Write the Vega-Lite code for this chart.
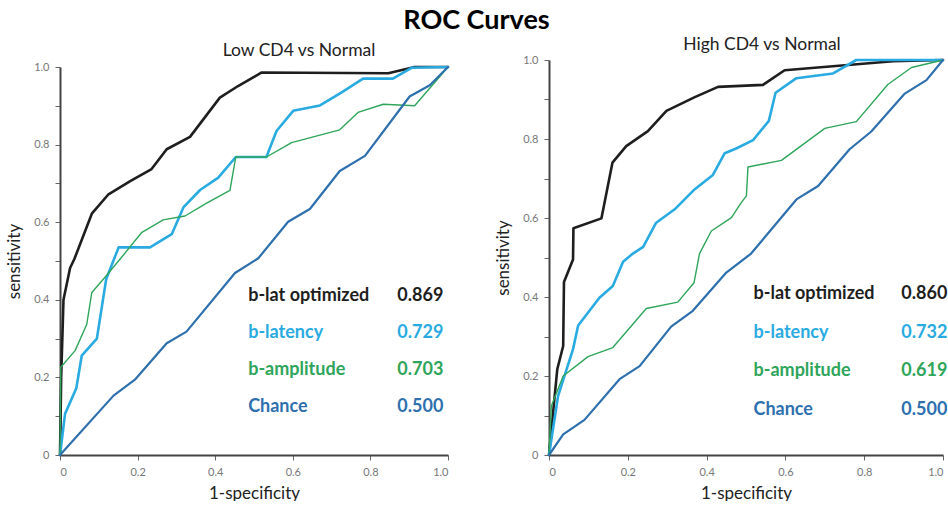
{
  "$schema": "https://vega.github.io/schema/vega-lite/v6.json",
  "background": "white",
  "padding": {"left": 5, "top": 6, "right": 0, "bottom": 0},
  "title": {"text": "ROC Curves", "fontSize": 27, "font": "Lato", "fontWeight": "bold", "anchor": "middle", "color": "#000000", "offset": 1},
  "config": {
    "view": {"stroke": null},
    "font": "Lato",
    "title": {"font": "Lato", "fontSize": 17.5, "fontWeight": "normal", "color": "#222222"},
    "axis": {
      "grid": false,
      "domainColor": "#444444",
      "domainWidth": 2,
      "tickColor": "#666666",
      "tickWidth": 1,
      "tickSize": 5,
      "labelColor": "#777777",
      "labelFont": "Lato",
      "labelFontSize": 11,
      "labelPadding": 6,
      "titleFont": "Lato",
      "titleFontSize": 17,
      "titleFontWeight": "normal",
      "titleColor": "#222222"
    }
  },
  "datasets": {
    "roc": [
      {"panel": "low", "series": "b-lat optimized", "step": 0, "fpr": 0, "tpr": 0},
      {"panel": "low", "series": "b-lat optimized", "step": 1, "fpr": 0.003, "tpr": 0.2},
      {"panel": "low", "series": "b-lat optimized", "step": 2, "fpr": 0.009, "tpr": 0.4},
      {"panel": "low", "series": "b-lat optimized", "step": 3, "fpr": 0.026, "tpr": 0.482},
      {"panel": "low", "series": "b-lat optimized", "step": 4, "fpr": 0.037, "tpr": 0.505},
      {"panel": "low", "series": "b-lat optimized", "step": 5, "fpr": 0.082, "tpr": 0.622},
      {"panel": "low", "series": "b-lat optimized", "step": 6, "fpr": 0.125, "tpr": 0.672},
      {"panel": "low", "series": "b-lat optimized", "step": 7, "fpr": 0.181, "tpr": 0.706},
      {"panel": "low", "series": "b-lat optimized", "step": 8, "fpr": 0.236, "tpr": 0.737},
      {"panel": "low", "series": "b-lat optimized", "step": 9, "fpr": 0.275, "tpr": 0.788},
      {"panel": "low", "series": "b-lat optimized", "step": 10, "fpr": 0.335, "tpr": 0.82},
      {"panel": "low", "series": "b-lat optimized", "step": 11, "fpr": 0.412, "tpr": 0.921},
      {"panel": "low", "series": "b-lat optimized", "step": 12, "fpr": 0.459, "tpr": 0.951},
      {"panel": "low", "series": "b-lat optimized", "step": 13, "fpr": 0.52, "tpr": 0.986},
      {"panel": "low", "series": "b-lat optimized", "step": 14, "fpr": 0.846, "tpr": 0.984},
      {"panel": "low", "series": "b-lat optimized", "step": 15, "fpr": 0.914, "tpr": 1.0},
      {"panel": "low", "series": "b-lat optimized", "step": 16, "fpr": 1.0, "tpr": 1.0},

      {"panel": "low", "series": "b-latency", "step": 0, "fpr": 0, "tpr": 0},
      {"panel": "low", "series": "b-latency", "step": 1, "fpr": 0.013, "tpr": 0.106},
      {"panel": "low", "series": "b-latency", "step": 2, "fpr": 0.042, "tpr": 0.172},
      {"panel": "low", "series": "b-latency", "step": 3, "fpr": 0.056, "tpr": 0.256},
      {"panel": "low", "series": "b-latency", "step": 4, "fpr": 0.095, "tpr": 0.3},
      {"panel": "low", "series": "b-latency", "step": 5, "fpr": 0.119, "tpr": 0.453},
      {"panel": "low", "series": "b-latency", "step": 6, "fpr": 0.151, "tpr": 0.535},
      {"panel": "low", "series": "b-latency", "step": 7, "fpr": 0.232, "tpr": 0.535},
      {"panel": "low", "series": "b-latency", "step": 8, "fpr": 0.288, "tpr": 0.569},
      {"panel": "low", "series": "b-latency", "step": 9, "fpr": 0.318, "tpr": 0.638},
      {"panel": "low", "series": "b-latency", "step": 10, "fpr": 0.361, "tpr": 0.683},
      {"panel": "low", "series": "b-latency", "step": 11, "fpr": 0.408, "tpr": 0.715},
      {"panel": "low", "series": "b-latency", "step": 12, "fpr": 0.453, "tpr": 0.768},
      {"panel": "low", "series": "b-latency", "step": 13, "fpr": 0.532, "tpr": 0.768},
      {"panel": "low", "series": "b-latency", "step": 14, "fpr": 0.558, "tpr": 0.835},
      {"panel": "low", "series": "b-latency", "step": 15, "fpr": 0.601, "tpr": 0.887},
      {"panel": "low", "series": "b-latency", "step": 16, "fpr": 0.67, "tpr": 0.901},
      {"panel": "low", "series": "b-latency", "step": 17, "fpr": 0.725, "tpr": 0.934},
      {"panel": "low", "series": "b-latency", "step": 18, "fpr": 0.781, "tpr": 0.97},
      {"panel": "low", "series": "b-latency", "step": 19, "fpr": 0.858, "tpr": 0.97},
      {"panel": "low", "series": "b-latency", "step": 20, "fpr": 0.906, "tpr": 0.998},
      {"panel": "low", "series": "b-latency", "step": 21, "fpr": 1.0, "tpr": 1.0},

      {"panel": "low", "series": "b-amplitude", "step": 0, "fpr": 0, "tpr": 0},
      {"panel": "low", "series": "b-amplitude", "step": 1, "fpr": 0.002, "tpr": 0.226},
      {"panel": "low", "series": "b-amplitude", "step": 2, "fpr": 0.039, "tpr": 0.269},
      {"panel": "low", "series": "b-amplitude", "step": 3, "fpr": 0.069, "tpr": 0.337},
      {"panel": "low", "series": "b-amplitude", "step": 4, "fpr": 0.082, "tpr": 0.419},
      {"panel": "low", "series": "b-amplitude", "step": 5, "fpr": 0.116, "tpr": 0.458},
      {"panel": "low", "series": "b-amplitude", "step": 6, "fpr": 0.155, "tpr": 0.505},
      {"panel": "low", "series": "b-amplitude", "step": 7, "fpr": 0.211, "tpr": 0.574},
      {"panel": "low", "series": "b-amplitude", "step": 8, "fpr": 0.266, "tpr": 0.606},
      {"panel": "low", "series": "b-amplitude", "step": 9, "fpr": 0.322, "tpr": 0.616},
      {"panel": "low", "series": "b-amplitude", "step": 10, "fpr": 0.378, "tpr": 0.649},
      {"panel": "low", "series": "b-amplitude", "step": 11, "fpr": 0.438, "tpr": 0.682},
      {"panel": "low", "series": "b-amplitude", "step": 12, "fpr": 0.453, "tpr": 0.768},
      {"panel": "low", "series": "b-amplitude", "step": 13, "fpr": 0.532, "tpr": 0.768},
      {"panel": "low", "series": "b-amplitude", "step": 14, "fpr": 0.597, "tpr": 0.805},
      {"panel": "low", "series": "b-amplitude", "step": 15, "fpr": 0.721, "tpr": 0.838},
      {"panel": "low", "series": "b-amplitude", "step": 16, "fpr": 0.768, "tpr": 0.883},
      {"panel": "low", "series": "b-amplitude", "step": 17, "fpr": 0.833, "tpr": 0.904},
      {"panel": "low", "series": "b-amplitude", "step": 18, "fpr": 0.914, "tpr": 0.9},
      {"panel": "low", "series": "b-amplitude", "step": 19, "fpr": 1.0, "tpr": 1.0},

      {"panel": "low", "series": "Chance", "step": 0, "fpr": 0, "tpr": 0},
      {"panel": "low", "series": "Chance", "step": 1, "fpr": 0.138, "tpr": 0.153},
      {"panel": "low", "series": "Chance", "step": 2, "fpr": 0.193, "tpr": 0.194},
      {"panel": "low", "series": "Chance", "step": 3, "fpr": 0.275, "tpr": 0.288},
      {"panel": "low", "series": "Chance", "step": 4, "fpr": 0.326, "tpr": 0.318},
      {"panel": "low", "series": "Chance", "step": 5, "fpr": 0.451, "tpr": 0.469},
      {"panel": "low", "series": "Chance", "step": 6, "fpr": 0.511, "tpr": 0.507},
      {"panel": "low", "series": "Chance", "step": 7, "fpr": 0.588, "tpr": 0.601},
      {"panel": "low", "series": "Chance", "step": 8, "fpr": 0.644, "tpr": 0.634},
      {"panel": "low", "series": "Chance", "step": 9, "fpr": 0.721, "tpr": 0.732},
      {"panel": "low", "series": "Chance", "step": 10, "fpr": 0.786, "tpr": 0.771},
      {"panel": "low", "series": "Chance", "step": 11, "fpr": 0.901, "tpr": 0.924},
      {"panel": "low", "series": "Chance", "step": 12, "fpr": 0.953, "tpr": 0.953},
      {"panel": "low", "series": "Chance", "step": 13, "fpr": 1.0, "tpr": 1.0},

      {"panel": "high", "series": "b-lat optimized", "step": 0, "fpr": 0, "tpr": 0},
      {"panel": "high", "series": "b-lat optimized", "step": 1, "fpr": 0.021, "tpr": 0.217},
      {"panel": "high", "series": "b-lat optimized", "step": 2, "fpr": 0.036, "tpr": 0.276},
      {"panel": "high", "series": "b-lat optimized", "step": 3, "fpr": 0.038, "tpr": 0.438},
      {"panel": "high", "series": "b-lat optimized", "step": 4, "fpr": 0.061, "tpr": 0.495},
      {"panel": "high", "series": "b-lat optimized", "step": 5, "fpr": 0.062, "tpr": 0.574},
      {"panel": "high", "series": "b-lat optimized", "step": 6, "fpr": 0.133, "tpr": 0.599},
      {"panel": "high", "series": "b-lat optimized", "step": 7, "fpr": 0.161, "tpr": 0.74},
      {"panel": "high", "series": "b-lat optimized", "step": 8, "fpr": 0.196, "tpr": 0.782},
      {"panel": "high", "series": "b-lat optimized", "step": 9, "fpr": 0.251, "tpr": 0.82},
      {"panel": "high", "series": "b-lat optimized", "step": 10, "fpr": 0.298, "tpr": 0.871},
      {"panel": "high", "series": "b-lat optimized", "step": 11, "fpr": 0.37, "tpr": 0.906},
      {"panel": "high", "series": "b-lat optimized", "step": 12, "fpr": 0.429, "tpr": 0.932},
      {"panel": "high", "series": "b-lat optimized", "step": 13, "fpr": 0.543, "tpr": 0.937},
      {"panel": "high", "series": "b-lat optimized", "step": 14, "fpr": 0.598, "tpr": 0.974},
      {"panel": "high", "series": "b-lat optimized", "step": 15, "fpr": 0.873, "tpr": 0.997},
      {"panel": "high", "series": "b-lat optimized", "step": 16, "fpr": 1.0, "tpr": 1.0},

      {"panel": "high", "series": "b-latency", "step": 0, "fpr": 0, "tpr": 0},
      {"panel": "high", "series": "b-latency", "step": 1, "fpr": 0.023, "tpr": 0.149},
      {"panel": "high", "series": "b-latency", "step": 2, "fpr": 0.061, "tpr": 0.268},
      {"panel": "high", "series": "b-latency", "step": 3, "fpr": 0.074, "tpr": 0.328},
      {"panel": "high", "series": "b-latency", "step": 4, "fpr": 0.128, "tpr": 0.398},
      {"panel": "high", "series": "b-latency", "step": 5, "fpr": 0.162, "tpr": 0.428},
      {"panel": "high", "series": "b-latency", "step": 6, "fpr": 0.188, "tpr": 0.489},
      {"panel": "high", "series": "b-latency", "step": 7, "fpr": 0.213, "tpr": 0.51},
      {"panel": "high", "series": "b-latency", "step": 8, "fpr": 0.239, "tpr": 0.527},
      {"panel": "high", "series": "b-latency", "step": 9, "fpr": 0.272, "tpr": 0.588},
      {"panel": "high", "series": "b-latency", "step": 10, "fpr": 0.319, "tpr": 0.622},
      {"panel": "high", "series": "b-latency", "step": 11, "fpr": 0.37, "tpr": 0.673},
      {"panel": "high", "series": "b-latency", "step": 12, "fpr": 0.416, "tpr": 0.709},
      {"panel": "high", "series": "b-latency", "step": 13, "fpr": 0.446, "tpr": 0.764},
      {"panel": "high", "series": "b-latency", "step": 14, "fpr": 0.475, "tpr": 0.776},
      {"panel": "high", "series": "b-latency", "step": 15, "fpr": 0.518, "tpr": 0.797},
      {"panel": "high", "series": "b-latency", "step": 16, "fpr": 0.558, "tpr": 0.846},
      {"panel": "high", "series": "b-latency", "step": 17, "fpr": 0.575, "tpr": 0.917},
      {"panel": "high", "series": "b-latency", "step": 18, "fpr": 0.628, "tpr": 0.954},
      {"panel": "high", "series": "b-latency", "step": 19, "fpr": 0.721, "tpr": 0.966},
      {"panel": "high", "series": "b-latency", "step": 20, "fpr": 0.78, "tpr": 1.0},
      {"panel": "high", "series": "b-latency", "step": 21, "fpr": 1.0, "tpr": 1.0},

      {"panel": "high", "series": "b-amplitude", "step": 0, "fpr": 0, "tpr": 0},
      {"panel": "high", "series": "b-amplitude", "step": 1, "fpr": 0.006, "tpr": 0.124},
      {"panel": "high", "series": "b-amplitude", "step": 2, "fpr": 0.036, "tpr": 0.2},
      {"panel": "high", "series": "b-amplitude", "step": 3, "fpr": 0.099, "tpr": 0.249},
      {"panel": "high", "series": "b-amplitude", "step": 4, "fpr": 0.162, "tpr": 0.272},
      {"panel": "high", "series": "b-amplitude", "step": 5, "fpr": 0.247, "tpr": 0.371},
      {"panel": "high", "series": "b-amplitude", "step": 6, "fpr": 0.327, "tpr": 0.387},
      {"panel": "high", "series": "b-amplitude", "step": 7, "fpr": 0.368, "tpr": 0.436},
      {"panel": "high", "series": "b-amplitude", "step": 8, "fpr": 0.382, "tpr": 0.51},
      {"panel": "high", "series": "b-amplitude", "step": 9, "fpr": 0.412, "tpr": 0.567},
      {"panel": "high", "series": "b-amplitude", "step": 10, "fpr": 0.463, "tpr": 0.601},
      {"panel": "high", "series": "b-amplitude", "step": 11, "fpr": 0.488, "tpr": 0.639},
      {"panel": "high", "series": "b-amplitude", "step": 12, "fpr": 0.501, "tpr": 0.656},
      {"panel": "high", "series": "b-amplitude", "step": 13, "fpr": 0.505, "tpr": 0.729},
      {"panel": "high", "series": "b-amplitude", "step": 14, "fpr": 0.59, "tpr": 0.746},
      {"panel": "high", "series": "b-amplitude", "step": 15, "fpr": 0.7, "tpr": 0.827},
      {"panel": "high", "series": "b-amplitude", "step": 16, "fpr": 0.78, "tpr": 0.844},
      {"panel": "high", "series": "b-amplitude", "step": 17, "fpr": 0.86, "tpr": 0.938},
      {"panel": "high", "series": "b-amplitude", "step": 18, "fpr": 0.92, "tpr": 0.981},
      {"panel": "high", "series": "b-amplitude", "step": 19, "fpr": 1.0, "tpr": 1.0},

      {"panel": "high", "series": "Chance", "step": 0, "fpr": 0, "tpr": 0},
      {"panel": "high", "series": "Chance", "step": 1, "fpr": 0.036, "tpr": 0.052},
      {"panel": "high", "series": "Chance", "step": 2, "fpr": 0.09, "tpr": 0.089},
      {"panel": "high", "series": "Chance", "step": 3, "fpr": 0.179, "tpr": 0.192},
      {"panel": "high", "series": "Chance", "step": 4, "fpr": 0.23, "tpr": 0.225},
      {"panel": "high", "series": "Chance", "step": 5, "fpr": 0.31, "tpr": 0.325},
      {"panel": "high", "series": "Chance", "step": 6, "fpr": 0.365, "tpr": 0.365},
      {"panel": "high", "series": "Chance", "step": 7, "fpr": 0.45, "tpr": 0.462},
      {"panel": "high", "series": "Chance", "step": 8, "fpr": 0.513, "tpr": 0.51},
      {"panel": "high", "series": "Chance", "step": 9, "fpr": 0.628, "tpr": 0.647},
      {"panel": "high", "series": "Chance", "step": 10, "fpr": 0.683, "tpr": 0.681},
      {"panel": "high", "series": "Chance", "step": 11, "fpr": 0.763, "tpr": 0.774},
      {"panel": "high", "series": "Chance", "step": 12, "fpr": 0.818, "tpr": 0.819},
      {"panel": "high", "series": "Chance", "step": 13, "fpr": 0.903, "tpr": 0.915},
      {"panel": "high", "series": "Chance", "step": 14, "fpr": 0.958, "tpr": 0.949},
      {"panel": "high", "series": "Chance", "step": 15, "fpr": 1.0, "tpr": 1.0}
    ],
    "auc": [
      {"panel": "low", "series": "b-lat optimized", "auc": "0.869"},
      {"panel": "low", "series": "b-latency", "auc": "0.729"},
      {"panel": "low", "series": "b-amplitude", "auc": "0.703"},
      {"panel": "low", "series": "Chance", "auc": "0.500"},
      {"panel": "high", "series": "b-lat optimized", "auc": "0.860"},
      {"panel": "high", "series": "b-latency", "auc": "0.732"},
      {"panel": "high", "series": "b-amplitude", "auc": "0.619"},
      {"panel": "high", "series": "Chance", "auc": "0.500"}
    ]
  },
  "spacing": 44,
  "hconcat": [
    {
      "width": 388,
      "height": 395,
      "title": {"text": "Low CD4 vs Normal", "offset": 1, "dx": 45},
      "layer": [
        {
          "data": {"name": "roc"},
          "transform": [{"filter": "datum.panel == 'low'"}],
          "mark": {"type": "line", "strokeJoin": "round", "strokeCap": "round"},
          "encoding": {
            "x": {"field": "fpr", "type": "quantitative", "scale": {"domain": [0, 1], "nice": false},
                  "axis": {"title": "1-specificity", "values": [0, 0.2, 0.4, 0.6, 0.8, 1.0], "labelExpr": "datum.value == 0 ? '0' : format(datum.value, '.1f')", "titlePadding": 8}},
            "y": {"field": "tpr", "type": "quantitative", "scale": {"domain": [0, 1], "nice": false, "range": [395, 7]},
                  "axis": {"title": "sensitivity", "values": [0, 0.1, 0.2, 0.3, 0.4, 0.5, 0.6, 0.7, 0.8, 0.9, 1.0], "labelExpr": "datum.value == 0 ? '0' : (round(datum.value * 10) % 2 == 0 ? format(datum.value, '.1f') : '')", "titlePadding": 10}},
            "color": {"field": "series", "type": "nominal", "legend": null,
                      "scale": {"domain": ["b-lat optimized", "b-latency", "b-amplitude", "Chance"], "range": ["#1e1e1e", "#29abe2", "#2ea55a", "#2e6fae"]}},
            "strokeWidth": {"condition": [{"test": "datum.series == 'b-amplitude'", "value": 1.4}, {"test": "datum.series == 'Chance'", "value": 2.2}], "value": 2.6},
            "order": {"field": "step", "type": "quantitative"}
          }
        },
        {
          "data": {"name": "auc"},
          "transform": [{"filter": "datum.panel == 'low'"}],
          "mark": {"type": "text", "align": "left", "baseline": "middle", "fontSize": 18, "fontWeight": "bold", "font": "Lato"},
          "encoding": {
            "x": {"datum": 0.485, "type": "quantitative"},
            "y": {"field": "series", "type": "nominal", "axis": null,
                  "scale": {"type": "point", "padding": 0, "domain": ["b-lat optimized", "b-latency", "b-amplitude", "Chance"], "range": [236, 347]}},
            "text": {"field": "series"},
            "color": {"field": "series", "type": "nominal", "legend": null}
          }
        },
        {
          "data": {"name": "auc"},
          "transform": [{"filter": "datum.panel == 'low'"}],
          "mark": {"type": "text", "align": "right", "baseline": "middle", "fontSize": 18, "fontWeight": "bold", "font": "Lato"},
          "encoding": {
            "x": {"datum": 0.988, "type": "quantitative"},
            "y": {"field": "series", "type": "nominal", "axis": null,
                  "scale": {"type": "point", "padding": 0, "domain": ["b-lat optimized", "b-latency", "b-amplitude", "Chance"], "range": [236, 347]}},
            "text": {"field": "auc"},
            "color": {"field": "series", "type": "nominal", "legend": null}
          }
        }
      ],
      "resolve": {"scale": {"y": "independent"}}
    },
    {
      "width": 394,
      "height": 395,
      "title": {"text": "High CD4 vs Normal", "offset": 1, "dx": 16},
      "layer": [
        {
          "data": {"name": "roc"},
          "transform": [{"filter": "datum.panel == 'high'"}],
          "mark": {"type": "line", "strokeJoin": "round", "strokeCap": "round"},
          "encoding": {
            "x": {"field": "fpr", "type": "quantitative", "scale": {"domain": [0, 1], "nice": false},
                  "axis": {"title": "1-specificity", "values": [0, 0.2, 0.4, 0.6, 0.8, 1.0], "labelExpr": "datum.value == 0 ? '0' : format(datum.value, '.1f')", "titlePadding": 8}},
            "y": {"field": "tpr", "type": "quantitative", "scale": {"domain": [0, 1], "nice": false},
                  "axis": {"title": "sensitivity", "values": [0, 0.1, 0.2, 0.3, 0.4, 0.5, 0.6, 0.7, 0.8, 0.9, 1.0], "labelExpr": "datum.value == 0 ? '0' : (round(datum.value * 10) % 2 == 0 ? format(datum.value, '.1f') : '')", "titlePadding": 10}},
            "color": {"field": "series", "type": "nominal", "legend": null},
            "strokeWidth": {"condition": [{"test": "datum.series == 'b-amplitude'", "value": 1.4}, {"test": "datum.series == 'Chance'", "value": 2.2}], "value": 2.6},
            "order": {"field": "step", "type": "quantitative"}
          }
        },
        {
          "data": {"name": "auc"},
          "transform": [{"filter": "datum.panel == 'high'"}],
          "mark": {"type": "text", "align": "left", "baseline": "middle", "fontSize": 18, "fontWeight": "bold", "font": "Lato"},
          "encoding": {
            "x": {"datum": 0.519, "type": "quantitative"},
            "y": {"field": "series", "type": "nominal", "axis": null,
                  "scale": {"type": "point", "padding": 0, "domain": ["b-lat optimized", "b-latency", "b-amplitude", "Chance"], "range": [234, 350]}},
            "text": {"field": "series"},
            "color": {"field": "series", "type": "nominal", "legend": null}
          }
        },
        {
          "data": {"name": "auc"},
          "transform": [{"filter": "datum.panel == 'high'"}],
          "mark": {"type": "text", "align": "right", "baseline": "middle", "fontSize": 18, "fontWeight": "bold", "font": "Lato"},
          "encoding": {
            "x": {"datum": 1.011, "type": "quantitative"},
            "y": {"field": "series", "type": "nominal", "axis": null,
                  "scale": {"type": "point", "padding": 0, "domain": ["b-lat optimized", "b-latency", "b-amplitude", "Chance"], "range": [234, 350]}},
            "text": {"field": "auc"},
            "color": {"field": "series", "type": "nominal", "legend": null}
          }
        }
      ],
      "resolve": {"scale": {"y": "independent"}}
    }
  ]
}
